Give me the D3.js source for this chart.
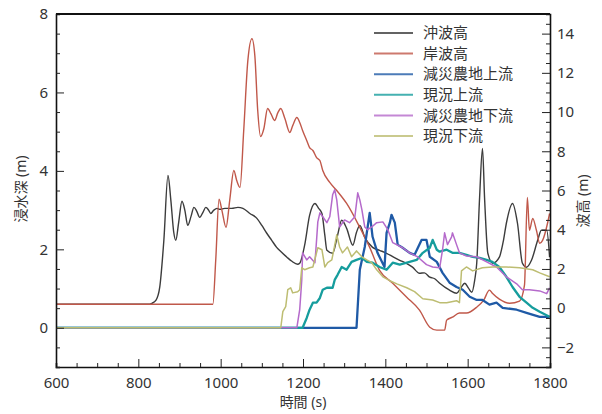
<!DOCTYPE html>
<html>
<head>
<meta charset="utf-8">
<script src="https://cdn.jsdelivr.net/npm/d3@7"></script>
<style>
  body { margin: 0; background: #fff; }
  text { font-family: "Noto Sans", "Noto Sans CJK JP", sans-serif; fill: #333; }
</style>
</head>
<body>
<div id="chart"></div>
<script>
// time (s), wave height (m) -- right axis
var okiHakou = [[600,0.2],[823,0.2],[833,0.25],[843,0.41],[852,1.07],[862,3.46],[872,6.77],[879,5.5],[886,3.87],[891,3.46],[898,4.38],[906,5.45],[913,4.99],[920,4.22],[928,4.68],[935,5.14],[942,4.94],[949,4.63],[957,4.89],[964,5.14],[971,4.99],[976,4.83],[983,4.99],[991,5.09],[998,5.04],[1010,5.09],[1027,5.09],[1042,5.14],[1054,5.09],[1071,4.83],[1088,4.58],[1100,4.22],[1112,3.82],[1124,3.46],[1136,3.1],[1148,2.85],[1161,2.6],[1173,2.39],[1187,2.24],[1192,2.29],[1204,3.21],[1216,4.73],[1229,5.34],[1238,5.09],[1246,4.83],[1253,3.72],[1258,2.95],[1272,2.8],[1284,3.72],[1294,4.48],[1306,4.07],[1321,3.21],[1330,3.87],[1338,4.22],[1350,3.61],[1369,3.1],[1386,2.95],[1403,2.8],[1420,2.6],[1435,2.44],[1450,2.3],[1466,2.09],[1483,1.78],[1495,1.8],[1508,1.58],[1520,1.5],[1532,1.27],[1556,0.92],[1573,0.76],[1583,1.02],[1593,1.27],[1602,1.02],[1610,0.81],[1617,1.42],[1622,2.29],[1629,5.65],[1636,8.14],[1641,5.65],[1649,2.8],[1661,2.29],[1677,2.6],[1687,3.46],[1694,4.33],[1709,5.34],[1721,4.33],[1733,2.29],[1743,2.09],[1755,2.44],[1770,3.46],[1779,3.97],[1792,3.97],[1799,2.6]];

var kishiHakou = [[600,0.2],[981,0.2],[988,2.44],[996,5.55],[1003,4.99],[1013,4.12],[1022,5.5],[1032,7.02],[1039,6.51],[1047,6.16],[1056,9.06],[1066,12.62],[1076,13.74],[1083,12.88],[1090,10.08],[1097,8.75],[1105,9.16],[1114,10.18],[1122,9.92],[1131,9.57],[1139,9.97],[1146,10.18],[1156,9.67],[1168,8.96],[1175,9.31],[1185,9.72],[1192,9.47],[1199,9.06],[1209,8.55],[1216,8.19],[1224,8.04],[1233,7.68],[1241,7.53],[1248,7.02],[1265,6.41],[1282,6.0],[1306,5.34],[1338,4.12],[1362,3.1],[1386,1.93],[1418,1.27],[1452,0.56],[1483,-0.1],[1508,-0.97],[1525,-1.12],[1544,-1.12],[1549,-0.61],[1563,-0.46],[1580,-0.25],[1597,-0.25],[1622,0.05],[1639,0.41],[1653,0.92],[1660,0.76],[1677,0.46],[1702,0.25],[1726,0.36],[1738,1.17],[1745,5.65],[1750,3.97],[1758,4.58],[1767,3.97],[1775,3.31],[1782,3.46],[1794,4.33],[1799,4.83]];

// time (s), inundation depth (m) -- left axis
var gensaiJoryu = [[600,0],[1330,0],[1338,1.48],[1350,2.06],[1362,2.93],[1369,2.32],[1381,1.91],[1398,1.55],[1403,2.42],[1411,2.68],[1415,2.88],[1423,2.68],[1430,2.12],[1442,2.04],[1459,1.91],[1471,1.86],[1488,2.24],[1500,2.24],[1508,1.81],[1525,1.68],[1539,1.4],[1556,1.15],[1573,1.04],[1588,0.97],[1605,0.79],[1622,0.71],[1636,0.71],[1653,0.59],[1670,0.64],[1685,0.51],[1719,0.46],[1743,0.38],[1775,0.28],[1799,0.28]];

var genkyoJoryu = [[600,0],[1199,0],[1209,0.25],[1216,0.46],[1224,0.64],[1233,0.64],[1241,0.76],[1248,0.97],[1258,1.02],[1272,1.02],[1277,1.22],[1284,1.35],[1294,1.55],[1306,1.48],[1318,1.68],[1330,1.73],[1343,1.78],[1355,1.68],[1369,1.66],[1386,1.55],[1403,1.48],[1418,1.66],[1435,1.61],[1459,1.68],[1476,1.73],[1491,1.91],[1508,2.04],[1515,2.24],[1525,1.99],[1532,1.94],[1549,1.99],[1563,1.91],[1580,1.91],[1597,1.86],[1612,1.81],[1629,1.78],[1646,1.73],[1660,1.68],[1677,1.55],[1694,1.3],[1709,1.04],[1726,0.79],[1743,0.64],[1758,0.51],[1775,0.41],[1799,0.28]];

var gensaiKaryu = [[600,0],[1185,0],[1192,0.46],[1197,1.22],[1199,1.91],[1209,1.73],[1216,1.81],[1229,1.66],[1233,2.24],[1236,2.7],[1241,2.93],[1248,2.83],[1258,2.68],[1265,2.83],[1272,3.39],[1277,3.52],[1282,3.26],[1289,2.57],[1301,2.75],[1313,2.68],[1326,2.83],[1333,3.44],[1338,3.26],[1343,3.01],[1350,2.57],[1357,2.5],[1367,2.57],[1379,2.68],[1394,2.7],[1406,2.5],[1418,2.17],[1442,2.04],[1459,1.91],[1478,1.81],[1500,1.61],[1515,1.55],[1532,1.53],[1539,1.99],[1544,2.42],[1551,2.12],[1561,2.32],[1563,2.42],[1573,2.12],[1580,1.91],[1597,1.83],[1622,1.81],[1646,1.68],[1670,1.55],[1694,1.3],[1719,1.12],[1733,0.97],[1750,0.97],[1775,0.94],[1792,0.87],[1799,1.02]];

var genkyoKaryu = [[600,0],[1146,0],[1151,0.41],[1158,0.54],[1163,0.97],[1170,1.02],[1175,0.89],[1187,0.92],[1192,0.97],[1197,1.53],[1204,1.48],[1216,1.53],[1224,1.55],[1236,2.04],[1246,1.99],[1253,1.55],[1260,1.66],[1270,1.73],[1282,2.37],[1289,2.06],[1296,1.91],[1308,2.06],[1318,1.81],[1330,1.96],[1343,1.81],[1355,1.73],[1367,1.66],[1379,1.48],[1394,1.3],[1411,1.2],[1428,1.12],[1452,1.02],[1471,0.92],[1491,0.74],[1515,0.71],[1532,0.64],[1549,0.64],[1573,0.69],[1580,0.64],[1585,1.45],[1597,1.55],[1612,1.45],[1636,1.53],[1660,1.55],[1694,1.55],[1726,1.53],[1758,1.48],[1775,1.4],[1799,1.3]];

var xTicks = [600, 800, 1000, 1200, 1400, 1600, 1800];
var leftTicks = [0, 2, 4, 6, 8];
var rightTicks = [-2, 0, 2, 4, 6, 8, 10, 12, 14];

var seriesList = [
    { name: "沖波高", data: okiHakou, axis: "right", color: "#3c3c3c", width: 1.4, smooth: true },
    { name: "岸波高", data: kishiHakou, axis: "right", color: "#c0584a", width: 1.4, smooth: true },
    { name: "減災農地上流", data: gensaiJoryu, axis: "left", color: "#1f5aa6", width: 2.3, smooth: false },
    { name: "現況上流", data: genkyoJoryu, axis: "left", color: "#169d9d", width: 2.3, smooth: false },
    { name: "減災農地下流", data: gensaiKaryu, axis: "left", color: "#b56acb", width: 1.5, smooth: false },
    { name: "現況下流", data: genkyoKaryu, axis: "left", color: "#bdbd72", width: 1.5, smooth: false }
];

function drawChart() {
    var width = 602, height = 414;
    var plotLeft = 56, plotRight = 550, plotTop = 14, plotBottom = 367;

    var svg = d3.select("#chart")
        .append("svg")
        .attr("width", width)
        .attr("height", height);

    var xScale = d3.scaleLinear().domain([600, 1800]).range([plotLeft, plotRight]);
    var yLeft = d3.scaleLinear().domain([-1, 8]).range([plotBottom, plotTop]);
    var yRight = d3.scaleLinear().domain([-3, 15]).range([plotBottom, plotTop]);

    svg.append("clipPath").attr("id", "plot-clip")
        .append("rect")
        .attr("x", plotLeft).attr("y", plotTop)
        .attr("width", plotRight - plotLeft).attr("height", plotBottom - plotTop);

    // lines
    var plot = svg.append("g").attr("clip-path", "url(#plot-clip)");
    seriesList.forEach(function (s) {
        var yScale = s.axis === "left" ? yLeft : yRight;
        var line = d3.line()
            .x(function (d) { return xScale(d[0]); })
            .y(function (d) { return yScale(d[1]); })
            .curve(s.smooth ? d3.curveMonotoneX : d3.curveLinear);
        plot.append("path")
            .datum(s.data)
            .attr("fill", "none")
            .attr("stroke", s.color)
            .attr("stroke-width", s.width)
            .attr("stroke-linejoin", "round")
            .attr("d", line);
    });

    // axes, ticks point inward
    var xAxis = svg.append("g").attr("transform", "translate(0," + plotBottom + ")")
        .call(d3.axisBottom(xScale).tickValues(d3.range(600, 1801, 50)).tickSize(-4).tickFormat(""));
    xAxis.selectAll(".tick line").filter(function (d) { return d % 200 === 0; }).attr("y2", -8);
    svg.append("g").attr("transform", "translate(0," + plotBottom + ")")
        .call(d3.axisBottom(xScale).tickValues(xTicks).tickSize(0).tickPadding(10).tickFormat(d3.format("d")))
        .call(function (g) { g.select(".domain").remove(); });

    var lAxis = svg.append("g").attr("transform", "translate(" + plotLeft + ",0)")
        .call(d3.axisLeft(yLeft).tickValues(d3.range(-1, 8.01, 0.5)).tickSize(-4).tickFormat(""));
    lAxis.selectAll(".tick line").filter(function (d) { return d % 2 === 0; }).attr("x2", 8);
    svg.append("g").attr("transform", "translate(" + plotLeft + ",0)")
        .call(d3.axisLeft(yLeft).tickValues(leftTicks).tickSize(0).tickPadding(8))
        .call(function (g) { g.select(".domain").remove(); });

    var rAxis = svg.append("g").attr("transform", "translate(" + plotRight + ",0)")
        .call(d3.axisRight(yRight).tickValues(d3.range(-3, 15.01, 0.5)).tickSize(-4).tickFormat(""));
    rAxis.selectAll(".tick line").filter(function (d) { return d % 2 === 0; }).attr("x2", -8);
    svg.append("g").attr("transform", "translate(" + plotRight + ",0)")
        .call(d3.axisRight(yRight).tickValues(rightTicks).tickSize(0).tickPadding(7))
        .call(function (g) { g.select(".domain").remove(); });

    svg.selectAll(".domain").attr("stroke", "#111").attr("stroke-width", 1.6);
    svg.selectAll(".tick line").attr("stroke", "#222").attr("stroke-width", 1);
    svg.selectAll(".tick text").style("font-size", "15px").style("fill", "#333");

    // top border
    svg.append("line")
        .attr("x1", plotLeft).attr("x2", plotRight)
        .attr("y1", plotTop).attr("y2", plotTop)
        .attr("stroke", "#111").attr("stroke-width", 2);

    // axis titles
    svg.append("text")
        .attr("transform", "translate(" + (plotLeft + plotRight) / 2 + ",407)")
        .attr("text-anchor", "middle")
        .style("font-size", "14px")
        .text("時間 (s)");

    svg.append("text")
        .attr("transform", "translate(26,189) rotate(-90)")
        .attr("text-anchor", "middle")
        .style("font-size", "14px")
        .text("浸水深 (m)");

    svg.append("text")
        .attr("transform", "translate(588,201) rotate(-90)")
        .attr("text-anchor", "middle")
        .style("font-size", "14px")
        .text("波高 (m)");

    // legend
    var legend = svg.append("g").attr("transform", "translate(374,33)");
    legend.selectAll("line")
        .data(seriesList)
        .enter()
        .append("line")
        .attr("x1", 0).attr("x2", 39)
        .attr("y1", function (d, i) { return i * 20.6; })
        .attr("y2", function (d, i) { return i * 20.6; })
        .attr("stroke", function (d) { return d.color; })
        .attr("stroke-opacity", 0.8)
        .attr("stroke-width", 2);
    legend.selectAll("text")
        .data(seriesList)
        .enter()
        .append("text")
        .attr("x", 49)
        .attr("y", function (d, i) { return i * 20.6; })
        .attr("dy", "0.35em")
        .style("font-size", "15px")
        .text(function (d) { return d.name; });
}

drawChart();
</script>
</body>
</html>
